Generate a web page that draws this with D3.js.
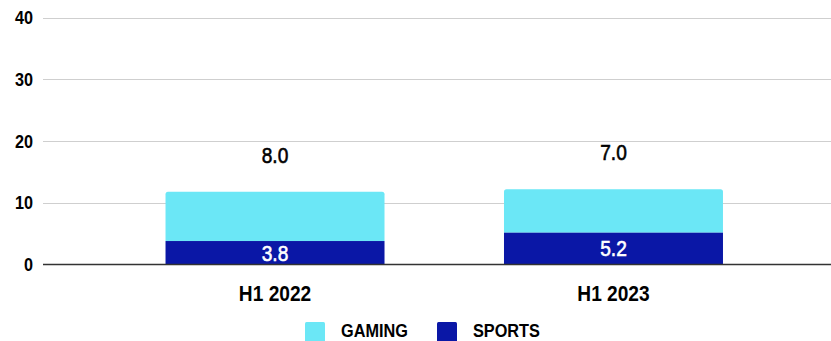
<!DOCTYPE html>
<html>
<head>
<meta charset="utf-8">
<script src="https://cdn.jsdelivr.net/npm/d3@7/dist/d3.min.js"></script>
<style>
  html, body { margin: 0; padding: 0; background: #fff; }
  svg { display: block; font-family: "Liberation Sans", Arial, sans-serif; }
</style>
</head>
<body>
<svg id="chart" width="831" height="341"></svg>
<script>
// Half-year revenue split, stacked bottom-up: SPORTS then GAMING
const periods = ["H1 2022", "H1 2023"];
const seriesNames = ["SPORTS", "GAMING"];
const sportsValues = [3.8, 5.2];
const gamingValues = [8.0, 7.0];
const yTicks = [0, 10, 20, 30, 40];
const legendOrder = ["GAMING", "SPORTS"];

const colors = { GAMING: "#6be7f6", SPORTS: "#0a17a6" };

const W = 831, H = 341;
const svg = d3.select("#chart");

const x = d3.scaleBand()
  .domain(periods)
  .range([43, 845.5])
  .paddingInner(0.353)
  .paddingOuter(0.362);

const y = d3.scaleLinear().domain([0, 40]).range([264.5, 17.5]);

// narrow text helper: horizontally condensed lettering
function label(g, txt, px, py, opts) {
  const t = g.append("text")
    .attr("transform", `translate(${px},${py}) scale(${opts.sx || 0.88},1)`)
    .attr("text-anchor", opts.anchor || "middle")
    .attr("font-size", opts.size)
    .attr("font-weight", opts.weight || "normal")
    .attr("fill", opts.fill || "#000")
    .text(txt);
  if (opts.stroke) {
    t.attr("stroke", opts.fill || "#000").attr("stroke-width", opts.stroke);
  }
  return t;
}

// gridlines
const grid = svg.append("g");
grid.selectAll("line").data(yTicks.filter(t => t !== 0)).join("line")
  .attr("x1", 43).attr("x2", W)
  .attr("y1", d => Math.round(y(d)) + 0.5).attr("y2", d => Math.round(y(d)) + 0.5)
  .attr("stroke", "#cfcfcf").attr("stroke-width", 1.2);

// y tick labels
const yl = svg.append("g");
yTicks.forEach(t => label(yl, String(t), 33, y(t) + 6.5, { size: 18, weight: "bold", anchor: "end", sx: 0.9 }));

// stacked data
const rows = periods.map((p, i) => ({ period: p, SPORTS: sportsValues[i], GAMING: gamingValues[i] }));
const stacked = d3.stack().keys(seriesNames)(rows);

const bars = svg.append("g");
const r = 2.5;
stacked.forEach(layer => {
  layer.forEach((seg, i) => {
    const x0 = x(rows[i].period), bw = x.bandwidth();
    const yTop = y(seg[1]), yBot = y(seg[0]);
    if (layer.key === "GAMING") {
      // rounded top corners on the top segment
      const p = d3.path();
      p.moveTo(x0, yBot);
      p.lineTo(x0, yTop + r);
      p.quadraticCurveTo(x0, yTop, x0 + r, yTop);
      p.lineTo(x0 + bw - r, yTop);
      p.quadraticCurveTo(x0 + bw, yTop, x0 + bw, yTop + r);
      p.lineTo(x0 + bw, yBot);
      p.closePath();
      bars.append("path").attr("d", p.toString()).attr("fill", colors.GAMING);
    } else {
      bars.append("rect")
        .attr("x", x0).attr("y", yTop)
        .attr("width", bw).attr("height", yBot - yTop)
        .attr("fill", colors.SPORTS);
    }
  });
});

// zero axis line
svg.append("line")
  .attr("x1", 43).attr("x2", W)
  .attr("y1", y(0)).attr("y2", y(0))
  .attr("stroke", "#333").attr("stroke-width", 1.5);

// value labels
const vl = svg.append("g");
rows.forEach((d, i) => {
  const cx = x(d.period) + x.bandwidth() / 2;
  // sports: centred inside its segment
  label(vl, d.SPORTS.toFixed(1), cx, (y(0) + y(d.SPORTS)) / 2 + 8, { size: 22, fill: "#fff", sx: 0.87, stroke: 0.6 });
  // gaming: above the stack
  label(vl, d.GAMING.toFixed(1), cx, y(d.SPORTS + d.GAMING) - 29, { size: 22, sx: 0.87, stroke: 0.6 });
});

// category labels
const xl = svg.append("g");
periods.forEach(p => label(xl, p, x(p) + x.bandwidth() / 2, 300.5, { size: 22, weight: "bold", sx: 0.87 }));

// legend
const lg = svg.append("g");
const legendX = { GAMING: 305, SPORTS: 437 };
legendOrder.forEach(k => {
  lg.append("rect").attr("x", legendX[k]).attr("y", 322).attr("width", 20).attr("height", 20)
    .attr("rx", 1.5).attr("fill", colors[k]);
  label(lg, k, legendX[k] + 36, 336.5, { size: 18.5, weight: "bold", anchor: "start", sx: 0.88 });
});
</script>
</body>
</html>
